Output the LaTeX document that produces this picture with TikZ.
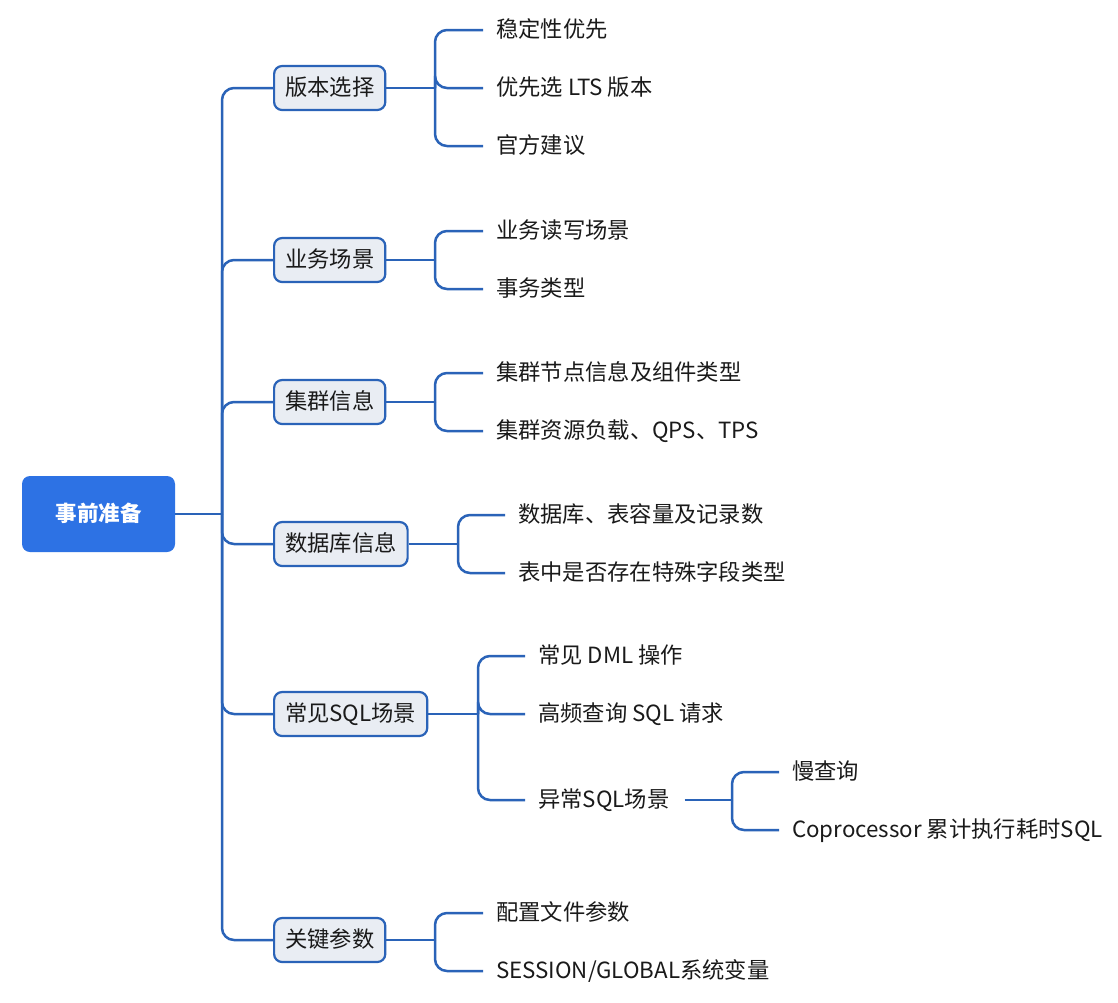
\documentclass[tikz,border=0pt]{standalone}
\usepackage{fontspec}
\setmainfont{Noto Sans CJK SC}
\definecolor{linec}{HTML}{2A63B8}
\definecolor{rootc}{HTML}{2D72E4}
\definecolor{boxfill}{HTML}{E9EDF3}
\definecolor{txt}{HTML}{1A1A1A}
\begin{document}
\begin{tikzpicture}[x=1pt,y=-1pt,
  every node/.style={font=\fontsize{22.3}{26}\selectfont, text=txt, text height=1.5em, text depth=0em},
  rootbox/.style={fill=rootc, rounded corners=8pt, minimum width=153pt, minimum height=76pt, text=white, font=\fontsize{21.5}{25}\selectfont\bfseries},
  lvlbox/.style={draw=linec, line width=2.2pt, fill=boxfill, rounded corners=8pt, minimum height=44pt, inner xsep=11pt, inner ysep=0pt, anchor=west},
  leaf/.style={inner xsep=13pt, inner ysep=0pt, anchor=west},
  conn/.style={draw=linec, line width=2.5pt, rounded corners=12pt}]
\useasboundingbox[fill=white] (0,0) rectangle (1118,1002);

\node[rootbox] (root) at (98.5,514) {事前准备};

\node[lvlbox] (b1) at (273,88) {版本选择};
\node[lvlbox] (b2) at (273,260) {业务场景};
\node[lvlbox] (b3) at (273,402) {集群信息};
\node[lvlbox] (b4) at (273,544) {数据库信息};
\node[lvlbox] (b5) at (273,714) {常见SQL场景};
\node[lvlbox] (b6) at (273,940) {关键参数};

\coordinate (t) at (222,514);
\draw[conn] (root.east) -- (t);
\foreach \b in {b1,b2,b3,b4,b5,b6} \draw[conn] (t) |- (\b.west);

% 版本选择
\node[leaf] (c11) at (483,30) {稳定性优先};
\node[leaf] (c12) at (483,88) {优先选 LTS 版本};
\node[leaf] (c13) at (483,146) {官方建议};
\coordinate (v1) at (435,88);
\draw[conn] (b1.east) -- (v1);
\foreach \c in {c11,c12,c13} \draw[conn] (v1) |- (\c.west);

% 业务场景
\node[leaf] (c21) at (483,231) {业务读写场景};
\node[leaf] (c22) at (483,289) {事务类型};
\coordinate (v2) at (435,260);
\draw[conn] (b2.east) -- (v2);
\foreach \c in {c21,c22} \draw[conn] (v2) |- (\c.west);

% 集群信息
\node[leaf] (c31) at (483,373) {集群节点信息及组件类型};
\node[leaf] (c32) at (483,431) {集群资源负载、QPS、TPS};
\coordinate (v3) at (435,402);
\draw[conn] (b3.east) -- (v3);
\foreach \c in {c31,c32} \draw[conn] (v3) |- (\c.west);

% 数据库信息
\node[leaf] (c41) at (505,515) {数据库、表容量及记录数};
\node[leaf] (c42) at (505,573) {表中是否存在特殊字段类型};
\coordinate (v4) at (458,544);
\draw[conn] (b4.east) -- (v4);
\foreach \c in {c41,c42} \draw[conn] (v4) |- (\c.west);

% 常见SQL场景
\node[leaf] (c51) at (525,656) {常见 DML 操作};
\node[leaf] (c52) at (525,714) {高频查询 SQL 请求};
\node[leaf] (c53) at (525,800) {异常SQL场景};
\coordinate (v5) at (478,714);
\draw[conn] (b5.east) -- (v5);
\foreach \c in {c51,c52,c53} \draw[conn] (v5) |- (\c.west);

% 异常SQL场景
\node[leaf] (d1) at (779,772) {慢查询};
\node[leaf] (d2) at (779,830) {Coprocessor 累计执行耗时SQL};
\coordinate (v6) at (732,800);
\draw[conn] ([xshift=2pt]c53.east) -- (v6);
\foreach \c in {d1,d2} \draw[conn] (v6) |- (\c.west);

% 关键参数
\node[leaf] (c61) at (483,913) {配置文件参数};
\node[leaf] (c62) at (483,971) {SESSION/GLOBAL系统变量};
\coordinate (v7) at (435,940);
\draw[conn] (b6.east) -- (v7);
\foreach \c in {c61,c62} \draw[conn] (v7) |- (\c.west);
\end{tikzpicture}
\end{document}
